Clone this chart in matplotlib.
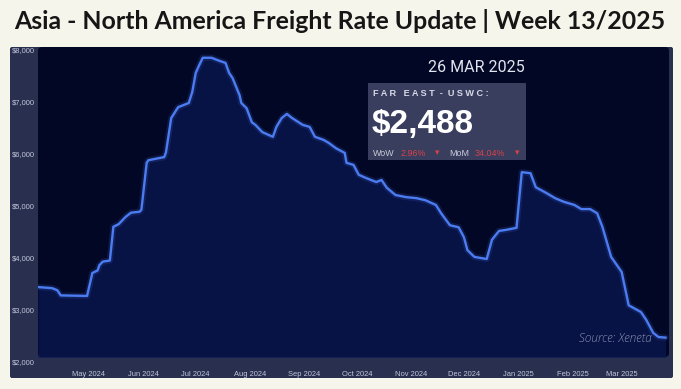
import pandas as pd
import matplotlib.pyplot as plt
import matplotlib.transforms as mtransforms
from matplotlib.patches import FancyBboxPatch

# weekly-ish rate readings
dates = ["2024-04-02", "2024-04-10", "2024-04-13", "2024-04-15", "2024-04-30",
         "2024-05-03", "2024-05-06", "2024-05-07", "2024-05-09", "2024-05-13",
         "2024-05-15", "2024-05-18", "2024-05-22", "2024-05-25", "2024-05-30",
         "2024-05-31", "2024-06-03", "2024-06-04", "2024-06-13", "2024-06-14",
         "2024-06-17", "2024-06-20", "2024-06-21", "2024-06-27", "2024-06-29",
         "2024-07-01", "2024-07-03", "2024-07-05", "2024-07-10", "2024-07-13",
         "2024-07-18", "2024-07-20", "2024-07-22", "2024-07-26", "2024-07-27",
         "2024-07-30", "2024-08-02", "2024-08-04", "2024-08-08", "2024-08-12",
         "2024-08-14", "2024-08-16", "2024-08-19", "2024-08-22", "2024-08-25",
         "2024-08-31", "2024-09-04", "2024-09-07", "2024-09-12", "2024-09-15",
         "2024-09-19", "2024-09-24", "2024-09-25", "2024-09-29", "2024-10-02",
         "2024-10-06", "2024-10-12", "2024-10-15", "2024-10-18", "2024-10-23",
         "2024-10-29", "2024-11-04", "2024-11-09", "2024-11-15", "2024-11-18",
         "2024-11-23", "2024-11-28", "2024-12-01", "2024-12-03", "2024-12-07",
         "2024-12-14", "2024-12-17", "2024-12-21", "2024-12-25", "2024-12-31",
         "2025-01-03", "2025-01-08", "2025-01-11", "2025-01-17", "2025-01-22",
         "2025-01-27", "2025-02-02", "2025-02-06", "2025-02-11", "2025-02-15",
         "2025-02-18", "2025-02-23", "2025-03-01", "2025-03-05", "2025-03-12",
         "2025-03-15", "2025-03-19", "2025-03-22", "2025-03-26"]
rates = [3460, 3440, 3400, 3300, 3290,
         3730, 3780, 3880, 3950, 3970,
         4620, 4670, 4810, 4890, 4910,
         4950, 5850, 5900, 5960, 6050,
         6710, 6870, 6920, 7000, 7210,
         7580, 7730, 7870, 7870, 7830,
         7770, 7580, 7480, 7150, 7000,
         6900, 6630, 6580, 6440, 6380,
         6350, 6540, 6710, 6790, 6710,
         6580, 6540, 6350, 6290, 6230,
         6130, 6040, 5850, 5810, 5620,
         5560, 5480, 5520, 5370, 5230,
         5190, 5170, 5130, 5040, 4880,
         4650, 4610, 4420, 4170, 4040,
         4000, 4370, 4540, 4560, 4600,
         5670, 5650, 5380, 5270, 5170,
         5100, 5040, 4960, 4960, 4880,
         4620, 4040, 3750, 3110, 2980,
         2830, 2580, 2500, 2488]

month_ticks = pd.date_range("2024-05-01", "2025-03-01", freq="MS")
month_labels = [d.strftime("%b %Y") for d in month_ticks]
y_ticks = [8000, 7000, 6000, 5000, 4000, 3000, 2000]
y_labels = ["${:,}".format(v) for v in y_ticks]

W, H = 681, 389
BG = "#f6f5ec"
PANEL = "#282f4f"
PLOT_BG = "#020726"
LINE = "#4c7cf2"
SMALL_FONT = ["Liberation Sans", "DejaVu Sans"]

fig = plt.figure(figsize=(W / 100, H / 100), dpi=100, facecolor=BG)
px = mtransforms.IdentityTransform()


def box(x0, y0, x1, y1, color, r=0):
    p = FancyBboxPatch((x0, H - y1), x1 - x0, y1 - y0,
                       boxstyle="round,pad=0,rounding_size=%s" % r,
                       fc=color, ec="none", transform=px, zorder=0)
    fig.add_artist(p)


box(10, 47, 673, 378, PANEL, 2)
box(38, 47, 669, 357, PLOT_BG, 4)

title = fig.text(340, H - 21, "Asia - North America Freight Rate Update | Week 13/2025",
                 transform=px, ha="center", va="center", fontsize=16,
                 fontweight="bold", color="#161616", family="Lato")
fig.canvas.draw()
tw = title.get_window_extent().width
title.set_fontsize(16 * 652 / tw)

# axes covering the dark plot area
ax = fig.add_axes([38 / W, 1 - 357 / H, (669 - 38) / W, (357 - 47) / H])
ax.set_facecolor("none")
for s in ax.spines.values():
    s.set_visible(False)

x = pd.to_datetime(dates)
ax.fill_between(x, rates, 1000, color="#0a1856", alpha=0.65, lw=0)
ax.plot(x, rates, color=LINE, lw=4.5, alpha=0.15, solid_capstyle="round")
ax.plot(x, rates, color=LINE, lw=1.7, solid_joinstyle="round")

# 8000 sits at y=51px, 2000 at y=363px
per_px = 6000 / 312
ax.set_ylim(2000 + 6 * per_px, 8000 + 4 * per_px)
ax.set_xlim(pd.Timestamp("2024-04-02"), pd.Timestamp("2025-03-28"))
ax.set_yticks([])
ax.set_xticks(month_ticks)
ax.set_xticklabels(month_labels, fontsize=5.4, color="#c3c7da", family=SMALL_FONT)
ax.tick_params(axis="x", length=0, pad=10)

ytr = mtransforms.blended_transform_factory(fig.transFigure, ax.transData)
for v, lab in zip(y_ticks, y_labels):
    ax.text(12 / W, v, lab, transform=ytr, ha="left", va="center",
            fontsize=5.4, color="#c3c7da", clip_on=False, family=SMALL_FONT)

# info box
fig.text(525, H - 67, "26 MAR 2025", transform=px, ha="right", va="center",
         fontsize=11.5, color="#e2e4ee", family="Roboto")
box(368, 83, 526, 160, "#393e5e", 0)
fig.text(373, H - 94, "F A R   E A S T  -  U S W C :", transform=px, ha="left",
         va="center", fontsize=6.6, fontweight="bold", color="#d8dae8",
         family=SMALL_FONT)
fig.text(372, H - 124, "$2,488", transform=px, ha="left", va="center",
         fontsize=24, fontweight="bold", color="white", family=SMALL_FONT)
small = dict(transform=px, va="center", fontsize=6.4, family=SMALL_FONT)
fig.text(373, H - 153, "WoW", color="#c9cbd9", **small)
fig.text(401, H - 153, "2.96%", color="#d9414a", **small)
fig.text(435, H - 153, "▾", color="#d9414a", **small)
fig.text(449, H - 153, "MoM", color="#c9cbd9", **small)
fig.text(475, H - 153, "34.04%", color="#d9414a", **small)
fig.text(515, H - 153, "▾", color="#d9414a", **small)

fig.text(652, H - 339, "Source: Xeneta", transform=px, ha="right", va="center",
         fontsize=8.6, style="italic", color="#8a90b2", family="Open Sans",
         fontweight="light")

fig.savefig("out.png", dpi=100, facecolor=BG)
